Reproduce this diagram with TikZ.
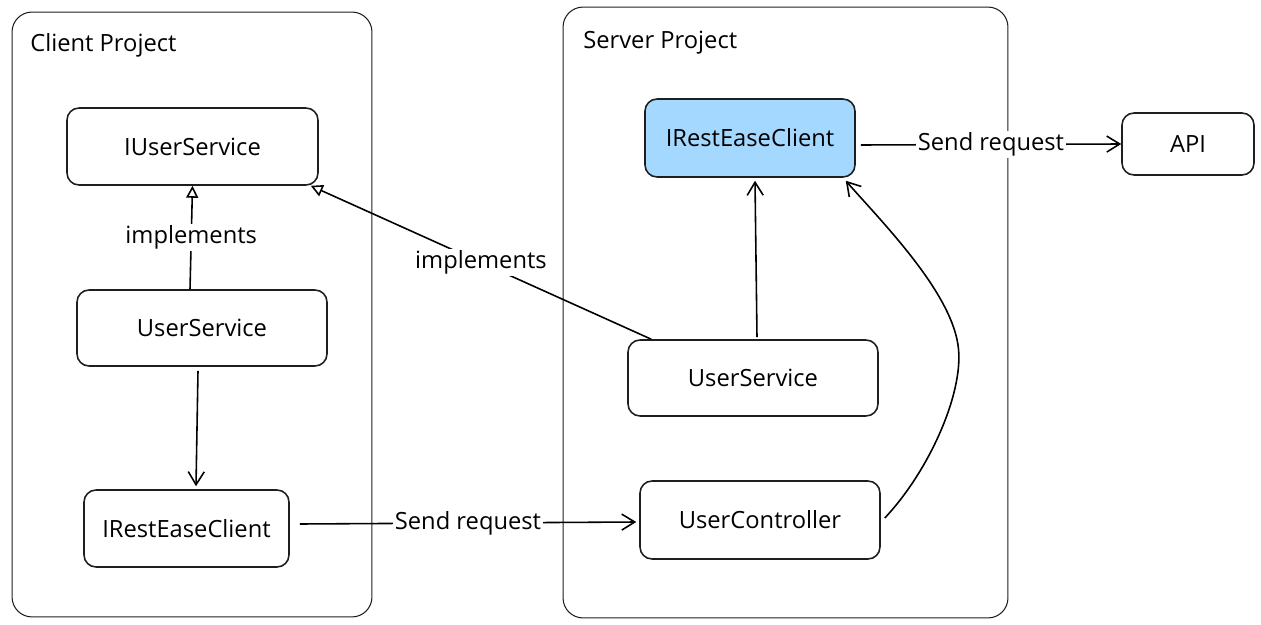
\documentclass[tikz,border=0pt]{standalone}
\usepackage{fontspec}
\setmainfont{Open Sans}
\usetikzlibrary{arrows.meta}
\definecolor{skyFill}{HTML}{A5D8FF}
\definecolor{inkLine}{HTML}{1E1E1E}
\tikzstyle{projBox} = [draw=inkLine,line width=0.6pt,rounded corners=0.4cm,inner sep=0pt]
\tikzstyle{classBox} = [draw=inkLine,line width=0.9pt,rounded corners=0.24cm,inner sep=0pt,align=center]
\tikzstyle{lbl} = [fill=white,inner sep=1pt]

\begin{document}
\begin{tikzpicture}[x=0.02cm,y=-0.02cm,font=\fontsize{13.5}{16}\selectfont,>={Straight Barb[length=2.6mm,width=3.2mm]}]
			\useasboundingbox (0,0) rectangle (1261,625);
			\node[projBox,minimum width=7.2cm,minimum height=12.1cm] (f1) at (192,314.5) {};
			\node[projBox,minimum width=8.9cm,minimum height=12.22cm] (f2) at (785.5,312.5) {};
			\node[anchor=west,inner sep=0pt] (t1) at (30,45) {Client Project};
			\node[anchor=west,inner sep=0pt] (t2) at (583,43) {Server Project};
			\node[classBox,minimum width=5.02cm,minimum height=1.54cm] (n1) at (192.5,146.5) {IUserService};
			\node[classBox,fill=skyFill,minimum width=4.2cm,minimum height=1.56cm] (n2) at (750,138) {IRestEaseClient};
			\node[classBox,minimum width=5cm,minimum height=1.52cm] (n3) at (202,328) {UserService};
			\node[classBox,minimum width=2.64cm,minimum height=1.24cm] (n4) at (1188,144) {API};
			\node[classBox,minimum width=4.1cm,minimum height=1.54cm] (n5) at (186.5,528.5) {IRestEaseClient};
			\node[classBox,minimum width=5cm,minimum height=1.52cm] (n6) at (753,378) {UserService};
			\node[classBox,minimum width=4.8cm,minimum height=1.56cm] (n7) at (760,520) {UserController};
			\draw[line width=0.9pt,-{Triangle[open,length=2.4mm,width=2.4mm]}] ([xshift=-0.24cm]n3.north)--(n1.south) node[lbl,midway] {implements};
			\draw[line width=0.9pt,-{Triangle[open,length=2.4mm,width=2.4mm]}] ([xshift=0.48cm]n6.north west)--([xshift=-0.16cm]n1.south east) node[lbl,midway] {implements};
			\draw[line width=0.9pt,->] ([xshift=-0.08cm,yshift=-0.08cm]n3.south)--([xshift=0.19cm,yshift=0.06cm]n5.north);
			\draw[line width=0.9pt,->] ([xshift=0.2cm,yshift=0.09cm]n5.east)--([xshift=-0.06cm,yshift=-0.04cm]n7.west) node[lbl,midway] {Send request};
			\draw[line width=0.9pt,->] ([xshift=0.08cm,yshift=0.04cm]n6.north)--([xshift=0.1cm,yshift=-0.06cm]n2.south);
			\draw[line width=0.9pt,->] ([xshift=0.08cm,yshift=0.04cm]n7.east) .. controls (930,470) and (965,390) .. (958,345) .. controls (950,290) and (880,220) .. ([xshift=-0.2cm,yshift=-0.06cm]n2.south east);
			\draw[line width=0.9pt,->] ([xshift=0.1cm,yshift=-0.14cm]n2.east)--(n4.west) node[lbl,midway] {Send request};
		\end{tikzpicture}
\end{document}
